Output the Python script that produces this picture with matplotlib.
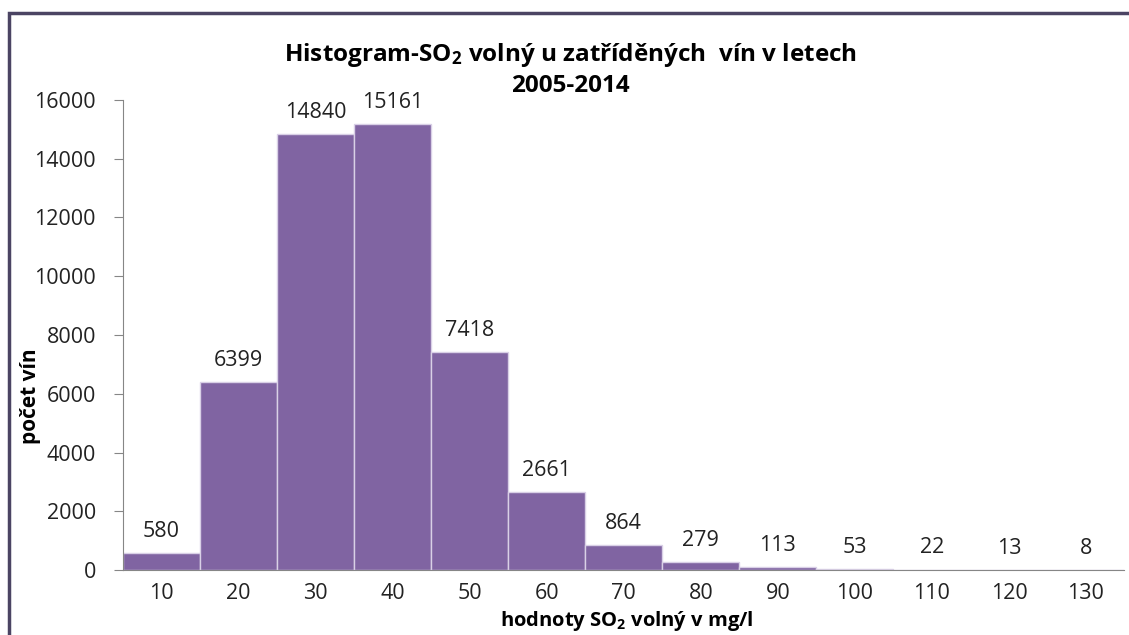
import matplotlib
matplotlib.use("Agg")
import matplotlib.pyplot as plt
from matplotlib.patches import Rectangle

# Data
classes = [10, 20, 30, 40, 50, 60, 70, 80, 90, 100, 110, 120, 130]
counts = [580, 6399, 14840, 15161, 7418, 2661, 864, 279, 113, 53, 22, 13, 8]
y_ticks = [0, 2000, 4000, 6000, 8000, 10000, 12000, 14000, 16000]

plt.rcParams['font.family'] = ['Open Sans', 'DejaVu Sans']
plt.rcParams['mathtext.fontset'] = 'custom'
plt.rcParams['mathtext.rm'] = 'Open Sans'
plt.rcParams['mathtext.bf'] = 'Open Sans:bold'

fig = plt.figure(figsize=(11.29, 6.35), dpi=100)
ax = fig.add_axes([0.109, 0.102, 0.887, 0.741])

pos = range(len(classes))
bars = ax.bar(pos, counts, width=1.0, color="#8064A2", edgecolor="#D9D0E6", linewidth=1)
for b, v in zip(bars, counts):
    ax.annotate(str(v), (b.get_x() + b.get_width() / 2, v), xytext=(0, 8),
                textcoords="offset points", ha="center", va="bottom",
                fontsize=15.5, color="#222222")

ax.set_xlim(-0.5, len(classes) - 0.5)
ax.set_ylim(0, 16000)
ax.set_yticks(y_ticks)
ax.set_xticks(list(pos))
ax.set_xticklabels([str(c) for c in classes])
ax.tick_params(axis="y", labelsize=15.5, length=6.5, color="#868686", pad=13, labelcolor="#222222")
ax.tick_params(axis="x", labelsize=15.5, length=0, pad=9, labelcolor="#222222")
for s in ["top", "right"]:
    ax.spines[s].set_visible(False)
for s in ["left", "bottom"]:
    ax.spines[s].set_color("#868686")

fig.text(0.505, 0.913, r"Histogram-$\mathbf{SO_2}$ volný u zatříděných  vín v letech",
         ha="center", va="center", fontsize=17.5, fontweight="bold")
fig.text(0.505, 0.864, "2005-2014", ha="center", va="center", fontsize=17.5, fontweight="bold")
fig.text(0.555, 0.003, r"hodnoty $\mathbf{SO_2}$ volný v mg/l", ha="center", va="bottom",
         fontsize=14.5, fontweight="bold")
fig.text(0.027, 0.376, "počet vín", rotation=90, ha="center", va="center",
         fontsize=15, fontweight="bold")

# outer chart frame (runs off the right and bottom edges)
fig.patches.append(Rectangle((9 / 1129, -0.05), 1.1, 1.05 - 13 / 635,
                             transform=fig.transFigure, fill=False,
                             edgecolor="#4B4463", linewidth=2.5))

fig.savefig("out.png", dpi=100)
